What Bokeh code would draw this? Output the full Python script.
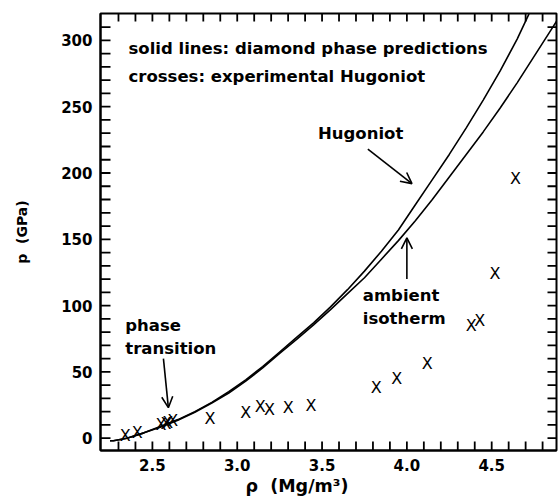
import math
from bokeh.plotting import figure
from bokeh.models import (Range1d, LinearAxis, Label, Arrow, OpenHead, ColumnDataSource,
                          FixedTicker, Title, PrintfTickFormatter)
from bokeh.core.properties import value
from bokeh.embed import file_html
from bokeh.resources import INLINE

# ---- data ----
exp_rho = [2.34, 2.41, 2.55, 2.58, 2.59, 2.62, 2.84, 3.05, 3.135, 3.19, 3.30, 3.435,
           3.82, 3.94, 4.12, 4.38, 4.43, 4.52, 4.64]
exp_p = [2, 4, 10, 11, 12, 13, 15, 19, 24, 22, 23, 25, 38, 45, 56, 85, 89, 124, 196]

hug_rho = [2.25, 2.27, 2.35, 2.45, 2.55, 2.65, 2.75, 2.85, 2.95, 3.05, 3.15, 3.25, 3.35,
           3.45, 3.55, 3.65, 3.75, 3.85, 3.95, 4.05, 4.15, 4.25, 4.35, 4.45, 4.55, 4.65, 4.72]
hug_p = [-2, -2, 0, 4, 9, 14, 20, 27, 35, 44, 54, 65, 76,
         87, 99, 112, 126, 141, 157, 176, 195, 214, 234, 255, 277, 301, 320]

iso_rho = [2.25, 2.27, 2.35, 2.45, 2.55, 2.65, 2.75, 2.85, 2.95, 3.05, 3.15, 3.25, 3.35,
           3.45, 3.55, 3.65, 3.75, 3.85, 3.95, 4.05, 4.15, 4.25, 4.35, 4.45, 4.55, 4.65,
           4.75, 4.85, 4.89]
iso_p = [-2, -2, 0, 4, 8.5, 13.5, 19.5, 26.5, 34, 43, 53, 64, 74.5,
         85.5, 97, 109, 121, 135, 149, 164, 180, 197, 214, 231, 249, 268,
         288, 308, 316]

x_ticks = [2.5, 3.0, 3.5, 4.0, 4.5]
x_minor = [2.3, 2.4, 2.6, 2.7, 2.8, 2.9, 3.1, 3.2, 3.3, 3.4, 3.6, 3.7, 3.8, 3.9,
           4.1, 4.2, 4.3, 4.4, 4.6, 4.7, 4.8]
y_ticks = [0, 50, 100, 150, 200, 250, 300]
y_minor = [10, 20, 30, 40, 60, 70, 80, 90, 110, 120, 130, 140, 160, 170, 180, 190,
           210, 220, 230, 240, 260, 270, 280, 290, 310]

FONT = "DejaVu Sans"

FRAME_W, FRAME_H = 456, 437
xr = Range1d(2.194, 4.882)
yr = Range1d(-9.3, 320.3)
p = figure(width=560, height=496, output_backend="svg", toolbar_location=None,
           x_range=xr, y_range=yr,
           min_border_left=100, min_border_right=4, min_border_top=13,
           min_border_bottom=46, x_axis_location=None, y_axis_location=None)
p.background_fill_color = "white"
p.border_fill_color = "white"
p.grid.visible = False
p.outline_line_color = "black"
p.outline_line_width = 2


def style_axis(ax):
    ax.axis_line_width = 2
    ax.axis_line_color = "black"
    ax.major_tick_in = 0
    ax.major_tick_out = 0
    ax.minor_tick_in = 0
    ax.minor_tick_out = 0
    ax.major_label_text_font = FONT
    ax.major_label_text_font_style = "bold"
    ax.major_label_text_font_size = "15px"
    ax.major_label_text_color = "black"
    ax.major_label_standoff = 8


bottom = LinearAxis(ticker=FixedTicker(ticks=x_ticks, minor_ticks=x_minor),
                    formatter=PrintfTickFormatter(format="%.1f"))
style_axis(bottom)
p.add_layout(bottom, "below")

left = LinearAxis(axis_label="p\u00a0\u00a0(GPa)", ticker=FixedTicker(ticks=y_ticks, minor_ticks=y_minor))
style_axis(left)
left.axis_label_text_font = FONT
left.axis_label_text_font_style = "bold"
left.axis_label_text_font_size = "14px"
left.axis_label_text_color = "black"
left.axis_label_standoff = 28
p.add_layout(left, "left")

# x axis title, shifted left as in the reference
xt = Title(text="\u03c1\u00a0\u00a0(Mg/m\u00b3)", align="left", offset=145, text_font=FONT,
           text_font_size="17.5px", text_font_style="bold", text_color="black",
           standoff=0)
p.add_layout(xt, "below")

# inward tick marks on all four edges, each side drawn as one broken line path
NAN = float("nan")
x_all = sorted(x_ticks + x_minor)
y_all = sorted(y_ticks + y_minor)
dx = (xr.end - xr.start) / FRAME_W   # data units per pixel
dy = (yr.end - yr.start) / FRAME_H


def tick_path(positions, edge, length, vertical):
    a, b = [], []
    for t in positions:
        if vertical:
            a += [t, t, NAN]
            b += [edge, edge + length, NAN]
        else:
            a += [edge, edge + length, NAN]
            b += [t, t, NAN]
    return a, b


for pos, edge, length, vert in [(x_all, yr.start, 9 * dy, True),
                                (x_all, yr.end, -8 * dy, True),
                                (y_all, xr.start, 10 * dx, False),
                                (y_all, xr.end, -9 * dx, False)]:
    tx, ty = tick_path(pos, edge, length, vert)
    p.line(tx, ty, line_color="black", line_width=1.8)

# curves
p.line(hug_rho, hug_p, line_color="black", line_width=1.6)
p.line(iso_rho, iso_p, line_color="black", line_width=1.6)

# experimental crosses
src = ColumnDataSource(dict(x=exp_rho, y=exp_p, t=["X"] * len(exp_rho)))
p.text(x="x", y="y", text="t", source=src, text_font=value(FONT),
       text_font_size="16px", text_align="center", text_baseline="middle",
       text_color="black")


def label(x, y, txt, align="left", size="16.5px", style="bold"):
    p.add_layout(Label(x=x, y=y, text=txt, text_font=FONT, text_font_size=size,
                       text_font_style=style, text_align=align,
                       text_baseline="middle", text_color="black"))


label(2.359, 293.7, "solid lines: diamond phase predictions")
label(2.359, 273.0, "crosses: experimental Hugoniot")
label(3.476, 229.6, "Hugoniot")
label(3.74, 107.5, "ambient")
label(3.74, 90.0, "isotherm")
label(2.34, 85.0, "phase")
label(2.34, 67.6, "transition")

for xs, ys, xe, ye in [(3.77, 218, 4.03, 192), (4.0, 120, 4.0, 151), (2.565, 60, 2.594, 23)]:
    p.add_layout(Arrow(end=OpenHead(size=11, line_width=1.6, line_color="black"),
                       x_start=xs, y_start=ys, x_end=xe, y_end=ye,
                       line_width=1.6, line_color="black"))

open("out.html", "w").write(file_html(p, INLINE))
